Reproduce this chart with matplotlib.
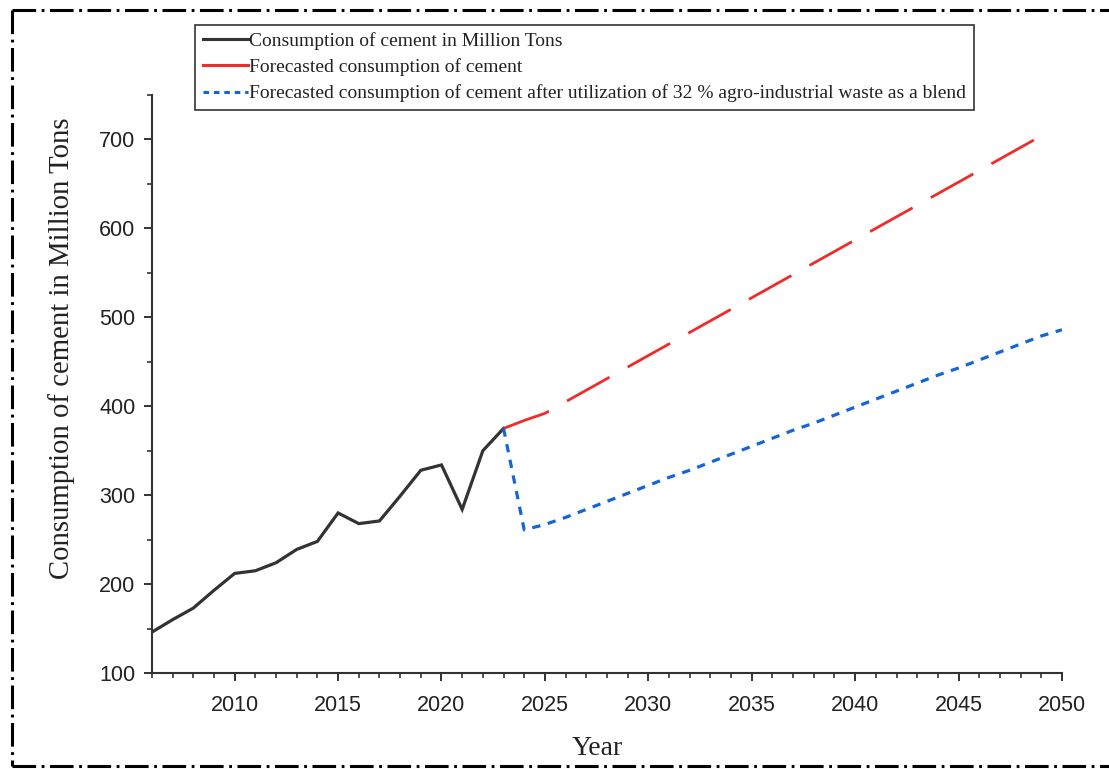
import matplotlib
matplotlib.use("Agg")
import matplotlib.pyplot as plt
from matplotlib.lines import Line2D
from matplotlib.ticker import MultipleLocator


# historical consumption (million tons)
hist_years = list(range(2006, 2024))
hist_values = [146, 160, 173, 193, 212, 215, 224, 239, 248, 280,
               268, 271, 299, 328, 334, 284, 350, 375]

# forecast without blending
fc_years = list(range(2023, 2050))
fc_values = [375, 384, 392, 405, 418, 431, 444, 457, 470, 483,
             496, 509, 522, 535, 548, 561, 574, 587, 600, 613,
             626, 639, 652, 665, 678, 691, 704]

# forecast with 32 % agro-industrial waste blend
blend_years = list(range(2023, 2051))
blend_values = [375, 261, 267, 275, 284, 293, 302, 311, 320, 328,
                337, 346, 355, 364, 373, 381, 390, 399, 408, 417,
                426, 435, 443, 452, 461, 470, 479, 486]

labels = [
    "Consumption of cement in Million Tons",
    "Forecasted consumption of cement",
    "Forecasted consumption of cement after utilization of 32 % agro-industrial waste as a blend",
]

BLACK = "#333333"
RED = "#ef2b2b"
BLUE = "#1565d8"

plt.rcParams["lines.scale_dashes"] = False

fig = plt.figure(figsize=(11.09, 7.69), dpi=100)
ax = fig.add_axes([0.137, 0.1248, 0.8206, 0.7517])

ax.plot(hist_years, hist_values, color=BLACK, lw=2.3, solid_joinstyle="miter")
red_line, = ax.plot(fc_years, fc_values, color=RED, lw=2.0)
red_line.set_dashes((35, 15))
blue_line, = ax.plot(blend_years, blend_values, color=BLUE, lw=2.3)
blue_line.set_dashes((6, 5.5))

ax.set_xlim(2006, 2050)
ax.set_ylim(100, 750)
ax.xaxis.set_major_locator(MultipleLocator(5))
ax.xaxis.set_minor_locator(MultipleLocator(1))
ax.yaxis.set_major_locator(MultipleLocator(100))
ax.yaxis.set_minor_locator(MultipleLocator(50))
ax.set_yticks([100, 200, 300, 400, 500, 600, 700])

for side in ["top", "right"]:
    ax.spines[side].set_visible(False)
for side in ["left", "bottom"]:
    ax.spines[side].set_linewidth(1.5)
    ax.spines[side].set_color(BLACK)

ax.tick_params(which="major", direction="out", length=6, width=1.4,
               colors=BLACK, labelsize=15.5, labelcolor="#222222")
ax.tick_params(which="minor", direction="out", length=3.5, width=1.2, colors=BLACK)
ax.tick_params(axis="x", which="major", pad=10)
ax.tick_params(axis="y", which="major", pad=6)
for lbl in ax.get_xticklabels() + ax.get_yticklabels():
    lbl.set_family("Liberation Sans")

ax.set_ylabel("Consumption of cement in Million Tons", family="Liberation Serif",
              fontsize=20.7, color="#222222")
ax.yaxis.set_label_coords(-0.085, 0.562)
fig.text(0.539, 0.027, "Year", family="Liberation Serif", fontsize=20,
         color="#222222", ha="center", va="center")

handles = [
    Line2D([], [], color=BLACK, lw=2.2),
    Line2D([], [], color=RED, lw=2.2),
    Line2D([], [], color=BLUE, lw=2.2, dashes=(4, 3.5)),
]
leg = fig.legend(handles, labels, loc="upper left", bbox_to_anchor=(0.176, 0.968),
                 prop={"family": "Liberation Serif", "size": 14},
                 frameon=True, fancybox=False, shadow=False, framealpha=1,
                 edgecolor=BLACK, handlelength=2.3, handletextpad=0.08,
                 borderpad=0.4, labelspacing=0.42, borderaxespad=0)
leg._legend_box.sep = 0
leg.get_frame().set_linewidth(1.2)
for t in leg.get_texts():
    t.set_color("#222222")

# dash-dot border around the figure (right side falls off the canvas)
border_style = dict(color="black", lw=2.2, transform=fig.transFigure,
                    dashes=(17, 4, 2, 4))
for xs, ys in [([0.0108, 1.01], [0.987, 0.987]),
               ([0.0108, 0.0108], [0.987, 0.004]),
               ([0.0108, 1.01], [0.004, 0.004])]:
    fig.add_artist(Line2D(xs, ys, **border_style))

fig.savefig("out.png", dpi=100)
